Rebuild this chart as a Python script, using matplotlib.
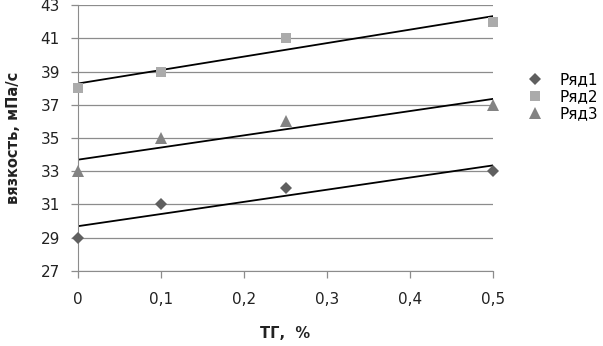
import numpy as np
import matplotlib
matplotlib.use('Agg')
import matplotlib.pyplot as plt
from matplotlib.ticker import FuncFormatter

plt.rcParams['font.family'] = ['DejaVu Sans']

x = [0, 0.1, 0.25, 0.5]
series_names = ['Ряд1', 'Ряд2', 'Ряд3']
ryad1 = [29, 31, 32, 33]
ryad2 = [38, 39, 41, 42]
ryad3 = [33, 35, 36, 37]

styles = [('D', '#5f5f5f', 6), ('s', '#ababab', 7), ('^', '#838383', 8)]

fig = plt.figure(figsize=(6.03, 3.46), dpi=100)
ax = fig.add_axes([0.1294, 0.2168, 0.8176 - 0.1294, 0.9855 - 0.2168])

xs = np.array(x)
for name, ys, (m, c, s) in zip(series_names, [ryad1, ryad2, ryad3], styles):
    ax.plot(xs, ys, linestyle='none', marker=m, color=c, markersize=s,
            markeredgewidth=0, label=name, clip_on=False, zorder=3)
    k, b = np.polyfit(xs, ys, 1)
    xl = np.array([0, 0.5])
    ax.plot(xl, k * xl + b, color='black', lw=1.3, zorder=2)

ax.set_xlim(0, 0.5)
ax.set_ylim(27, 43)
ax.set_xticks(np.arange(0, 0.51, 0.1))
ax.set_yticks(range(27, 44, 2))
ax.xaxis.set_major_formatter(FuncFormatter(lambda v, p: '0' if v == 0 else f'{v:.1f}'.replace('.', ',')))
ax.yaxis.grid(True, color='#8c8c8c', lw=0.9)
ax.set_axisbelow(True)
for sp in ['top', 'right']:
    ax.spines[sp].set_visible(False)
for sp in ['left', 'bottom']:
    ax.spines[sp].set_color('#8c8c8c')
ax.tick_params(axis='both', colors='#8c8c8c', length=5, width=0.9,
               labelcolor='#222222', labelsize=11)
ax.tick_params(axis='x', pad=10)
ax.tick_params(axis='y', pad=8)

ax.set_xlabel('ТГ,  %', fontsize=10.5, fontweight='bold', color='#222222', labelpad=14)
ax.set_ylabel('вязкость, мПа/с', fontsize=10.5, fontweight='bold', color='#222222', labelpad=14)

ax.legend(loc='upper left', bbox_to_anchor=(1.045, 0.8), frameon=False,
          fontsize=11, handletextpad=1.0, labelspacing=0.15, handlelength=1.2)

fig.savefig('out.png', dpi=100)
